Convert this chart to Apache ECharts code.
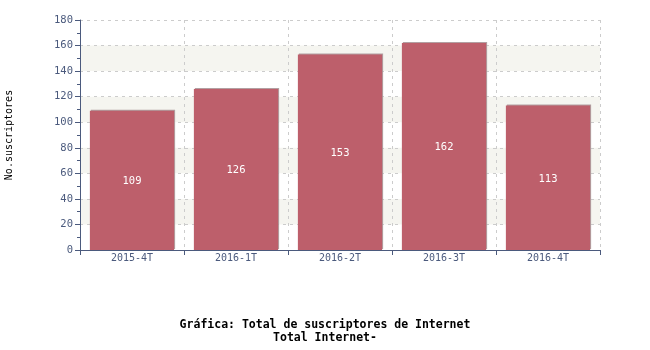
<!DOCTYPE html>
<html>
<head>
<meta charset="utf-8">
<script src="https://cdn.jsdelivr.net/npm/echarts@6/dist/echarts.min.js"></script>
<style>html,body{margin:0;padding:0;background:#fff}#c{width:650px;height:350px}</style>
</head>
<body>
<div id="c"></div>
<script>
const categories = ['2015-4T', '2016-1T', '2016-2T', '2016-3T', '2016-4T'];
const subscribers = [109, 126, 153, 162, 113];
const yAxisName = 'No.suscriptores';
const titleLines = ['Gráfica: Total de suscriptores de Internet', 'Total Internet-'];

const axisColor = '#4b5a7d';
const mono = 'DejaVu Sans Mono';
const chart = echarts.init(document.getElementById('c'));
chart.setOption({
  animation: false,
  title: {
    text: titleLines.join('\n'),
    left: 320, top: 314,
    textAlign: 'center',
    textStyle: { fontFamily: mono, fontSize: 11.5, fontWeight: 'bold', color: '#000', lineHeight: 13 }
  },
  grid: { left: 80, right: 50, top: 20, bottom: 100, containLabel: false, outerBoundsMode: 'none' },
  xAxis: {
    type: 'category',
    data: categories,
    axisLine: { lineStyle: { color: axisColor, width: 1 } },
    axisTick: { show: true, length: 5, lineStyle: { color: axisColor } },
    axisLabel: { fontFamily: mono, fontSize: 10, color: axisColor, margin: 3 },
    splitLine: { show: true, lineStyle: { color: '#cccccc', type: [3, 4] } }
  },
  yAxis: {
    type: 'value',
    min: 0, max: 180, interval: 20,
    name: yAxisName,
    nameLocation: 'middle',
    nameGap: 66,
    nameTextStyle: { fontFamily: mono, fontSize: 10, color: '#000' },
    axisLine: { show: true, lineStyle: { color: axisColor } },
    axisTick: { show: true, length: 5, lineStyle: { color: axisColor } },
    minorTick: { show: true, splitNumber: 2, length: 3, lineStyle: { color: axisColor } },
    axisLabel: { fontFamily: mono, fontSize: 10.5, color: axisColor, margin: 7 },
    splitLine: { show: true, lineStyle: { color: '#cccccc', type: [3, 4] } },
    splitArea: { show: true, areaStyle: { color: ['rgba(255,255,255,0)', '#f5f5f0'] } }
  },
  series: [{
    type: 'bar',
    data: subscribers,
    barCategoryGap: '19%',
    itemStyle: {
      color: '#bd5f6b',
      shadowColor: 'rgba(170,150,152,0.9)',
      shadowOffsetX: 1, shadowOffsetY: -1, shadowBlur: 0
    },
    label: {
      show: true, position: 'inside', offset: [0, 1],
      fontFamily: mono, fontSize: 10.5, color: '#fff'
    }
  }]
});
</script>
</body>
</html>
